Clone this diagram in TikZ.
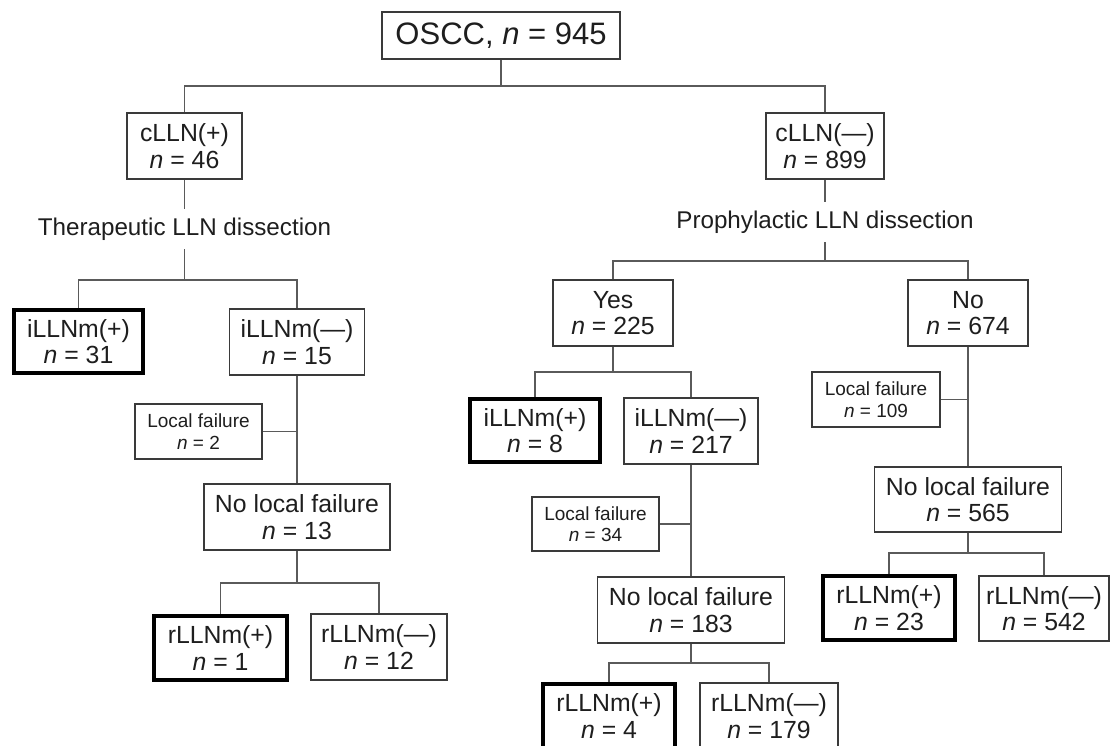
\documentclass[tikz,border=0pt]{standalone}
\usepackage{fontspec}
\setmainfont{Liberation Sans}
\definecolor{boxc}{HTML}{3A3A3A}
\definecolor{linec}{HTML}{5A5A5A}
\definecolor{txt}{HTML}{1E1E1E}
\tikzset{
  box/.style={draw=boxc, line width=1.3pt, fill=white, align=center, inner sep=0pt,
    text=txt, font=\fontsize{24.8}{26.5}\selectfont},
  hbox/.style={box, draw=black, line width=4pt},
  sbox/.style={box, font=\fontsize{19}{21.5}\selectfont},
  lbl/.style={align=center, inner sep=0pt, text=txt, minimum height=40pt,
    font=\fontsize{24.2}{26}\selectfont},
  link/.style={draw=linec, line width=1.3pt},
}
\newcommand{\nn}{{\itshape n}}
\begin{document}
\begin{tikzpicture}[x=1pt,y=-1pt]
\useasboundingbox (0,0) rectangle (1110,746);
\clip (0,0) rectangle (1110,746);
\fill[white] (0,0) rectangle (1110,746);

% top
\node[box, minimum width=238pt, minimum height=47pt, font=\fontsize{31}{34}\selectfont] (osc) at (501,35.5) {OSCC, \nn{} = 945};
\node[box, minimum width=115pt, minimum height=66pt] (cpos) at (184.5,146) {cLLN(+)\\\nn{} = 46};
\node[box, minimum width=118pt, minimum height=66pt] (cneg) at (825,146) {cLLN(—)\\\nn{} = 899};

% left branch
\node[lbl] (ther) at (184.5,229) {Therapeutic LLN dissection};
\node[hbox, minimum width=129pt, minimum height=63pt] (ipos1) at (78.5,341.5) {iLLNm(+)\\\nn{} = 31};
\node[box, minimum width=135pt, minimum height=66pt] (ineg1) at (297,342) {iLLNm(—)\\\nn{} = 15};
\node[sbox, minimum width=127pt, minimum height=55pt] (lf1) at (198.5,431.5) {Local failure\\\nn{} = 2};
\node[box, minimum width=186pt, minimum height=66pt] (nlf1) at (297,517) {No local failure\\\nn{} = 13};
\node[hbox, minimum width=133pt, minimum height=64pt] (rpos1) at (220.5,648) {rLLNm(+)\\\nn{} = 1};
\node[box, minimum width=136pt, minimum height=66pt] (rneg1) at (379,647) {rLLNm(—)\\\nn{} = 12};

% right branch
\node[lbl] (proph) at (825,222) {Prophylactic LLN dissection};
\node[box, minimum width=120pt, minimum height=66pt] (yes) at (613,313) {Yes\\\nn{} = 225};
\node[box, minimum width=120pt, minimum height=66pt] (no) at (968,313) {No\\\nn{} = 674};
\node[hbox, minimum width=130pt, minimum height=63pt] (ipos2) at (535,430.5) {iLLNm(+)\\\nn{} = 8};
\node[box, minimum width=134pt, minimum height=66pt] (ineg2) at (691,431) {iLLNm(—)\\\nn{} = 217};
\node[sbox, minimum width=127pt, minimum height=54pt] (lf2) at (595.5,524) {Local failure\\\nn{} = 34};
\node[box, minimum width=187pt, minimum height=66pt] (nlf2) at (691,610) {No local failure\\\nn{} = 183};
\node[hbox, minimum width=132pt, minimum height=64pt] (rpos2) at (609,716) {rLLNm(+)\\\nn{} = 4};
\node[box, minimum width=138pt, minimum height=66pt] (rneg2) at (769,716) {rLLNm(—)\\\nn{} = 179};
\node[sbox, minimum width=128pt, minimum height=55pt] (lf3) at (876,399.5) {Local failure\\\nn{} = 109};
\node[box, minimum width=187pt, minimum height=65pt] (nlf3) at (968,499.5) {No local failure\\\nn{} = 565};
\node[hbox, minimum width=132pt, minimum height=64pt] (rpos3) at (889,608) {rLLNm(+)\\\nn{} = 23};
\node[box, minimum width=130pt, minimum height=65pt] (rneg3) at (1044,608.5) {rLLNm(—)\\\nn{} = 542};

% connectors
\draw[link] (osc.south) -- (osc.south |- 0,86);
\draw[link] (cpos.north) -- (cpos.north |- 0,86) -- (cneg.north |- 0,86) -- (cneg.north);

\draw[link] (cpos.south) -- (ther.north);
\draw[link] (ther.south) -- (ther.south |- 0,280);
\draw[link] (ipos1.north) -- (ipos1.north |- 0,280) -- (ineg1.north |- 0,280) -- (ineg1.north);
\draw[link] (ineg1.south) -- (nlf1.north);
\draw[link] (lf1.east) -- (lf1.east -| ineg1.south);
\draw[link] (nlf1.south) -- (nlf1.south |- 0,583);
\draw[link] (rpos1.north) -- (rpos1.north |- 0,583) -- (rneg1.north |- 0,583) -- (rneg1.north);

\draw[link] (cneg.south) -- (proph.north);
\draw[link] (proph.south) -- (proph.south |- 0,261);
\draw[link] (yes.north) -- (yes.north |- 0,261) -- (no.north |- 0,261) -- (no.north);
\draw[link] (yes.south) -- (yes.south |- 0,372);
\draw[link] (ipos2.north) -- (ipos2.north |- 0,372) -- (ineg2.north |- 0,372) -- (ineg2.north);
\draw[link] (ineg2.south) -- (nlf2.north);
\draw[link] (lf2.east) -- (lf2.east -| ineg2.south);
\draw[link] (nlf2.south) -- (nlf2.south |- 0,663);
\draw[link] (rpos2.north) -- (rpos2.north |- 0,663) -- (rneg2.north |- 0,663) -- (rneg2.north);
\draw[link] (no.south) -- (nlf3.north);
\draw[link] (lf3.east) -- (lf3.east -| no.south);
\draw[link] (nlf3.south) -- (nlf3.south |- 0,553);
\draw[link] (rpos3.north) -- (rpos3.north |- 0,553) -- (rneg3.north |- 0,553) -- (rneg3.north);
\end{tikzpicture}
\end{document}
